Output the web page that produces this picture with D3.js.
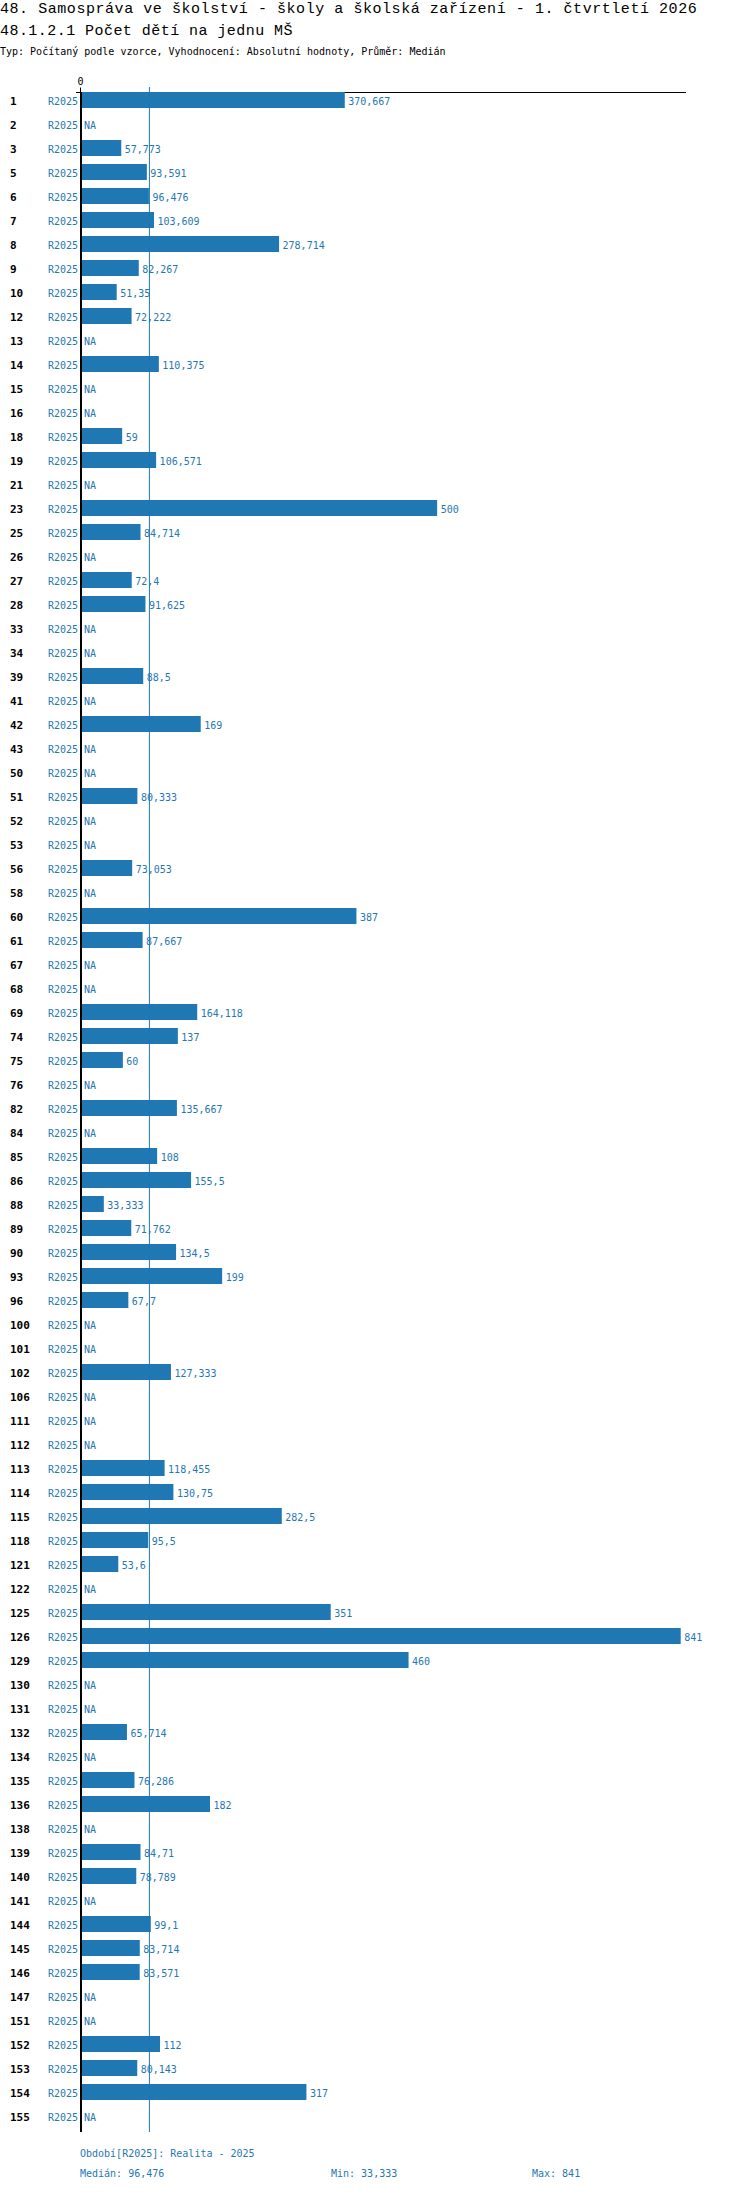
<!DOCTYPE html>
<html>
<head>
<meta charset="utf-8">
<script src="https://cdn.jsdelivr.net/npm/d3@7"></script>
<style>
  html, body { margin: 0; padding: 0; background: #fff; }
  svg { display: block; }
</style>
</head>
<body>
<script>
const titleText = "48. Samospráva ve školství - školy a školská zařízení - 1. čtvrtletí 2026";
const subtitleText = "48.1.2.1 Počet dětí na jednu MŠ";
const typeText = "Typ: Počítaný podle vzorce, Vyhodnocení: Absolutní hodnoty, Průměr: Medián";
const periodLabel = "R2025";
const periodLegend = "Období[R2025]: Realita - 2025";

const categories = ["1","2","3","5","6","7","8","9","10","12","13","14","15","16","18","19","21","23","25","26","27","28","33","34","39","41","42","43","50","51","52","53","56","58","60","61","67","68","69","74","75","76","82","84","85","86","88","89","90","93","96","100","101","102","106","111","112","113","114","115","118","121","122","125","126","129","130","131","132","134","135","136","138","139","140","141","144","145","146","147","151","152","153","154","155"];

const values = [370.667,null,57.773,93.591,96.476,103.609,278.714,82.267,51.35,72.222,null,110.375,null,null,59,106.571,null,500,84.714,null,72.4,91.625,null,null,88.5,null,169,null,null,80.333,null,null,73.053,null,387,87.667,null,null,164.118,137,60,null,135.667,null,108,155.5,33.333,71.762,134.5,199,67.7,null,null,127.333,null,null,null,118.455,130.75,282.5,95.5,53.6,null,351,841,460,null,null,65.714,null,76.286,182,null,84.71,78.789,null,99.1,83.714,83.571,null,null,112,80.143,317,null];

const xTicks = [0];

const W = 750, H = 2192;
const blue = "#1f77b4";
const mono = "'DejaVu Sans Mono', monospace";

const loc = d3.formatLocale({decimal: ",", thousands: " ", grouping: [3], currency: ["", ""]});
const fmt = loc.format(".3~f");

const svg = d3.select("body").append("svg").attr("width", W).attr("height", H);

svg.append("text").attr("x", 0).attr("y", 13)
  .style("font-family", "'Liberation Mono', monospace").style("font-size", "15px")
  .style("letter-spacing", "0.55px").attr("fill", "#000")
  .text(titleText);
svg.append("text").attr("x", 0).attr("y", 34.5)
  .style("font-family", "'Liberation Mono', monospace").style("font-size", "15px")
  .style("letter-spacing", "0.45px").attr("fill", "#000")
  .text(subtitleText);
svg.append("text").attr("x", 0).attr("y", 55)
  .style("font-family", mono).style("font-size", "10px").attr("fill", "#000")
  .text(typeText);

const data = categories.map((c, i) => ({cat: c, v: values[i]}));
const valid = values.filter(v => v != null);
const med = d3.median(valid), mn = d3.min(valid), mx = d3.max(valid);

const x = d3.scaleLinear().domain([0, mx]).range([80, 680.7]);
const y = d3.scaleBand().domain(categories).range([92, 92 + 24 * categories.length]).padding(0);
const barH = y.bandwidth() * 2 / 3;
const yBottom = 92 + 24 * categories.length;

// top axis with 0 tick
const ax = svg.append("g").attr("transform", "translate(0,92.5)")
  .call(d3.axisTop(x).tickValues(xTicks).tickSize(5).tickSizeOuter(0).tickFormat(d => String(d)));
ax.select(".domain").remove();
ax.selectAll("text").style("font-family", mono).style("font-size", "10px").attr("fill", "#000").attr("y", -8);
ax.selectAll("line").attr("stroke", "#000");
svg.append("line").attr("x1", 76).attr("x2", 686).attr("y1", 92.5).attr("y2", 92.5)
  .attr("stroke", "#000").attr("stroke-width", 1);

// bars
svg.append("g").selectAll("rect").data(data.filter(d => d.v != null)).join("rect")
  .attr("x", x(0)).attr("y", d => y(d.cat))
  .attr("width", d => x(d.v) - x(0)).attr("height", barH)
  .attr("fill", blue);

// median line
svg.append("line").attr("x1", x(med) + 0.5).attr("x2", x(med) + 0.5)
  .attr("y1", 87).attr("y2", yBottom).attr("stroke", blue).attr("stroke-width", 1);

// vertical axis line
svg.append("line").attr("x1", 81).attr("x2", 81).attr("y1", 92).attr("y2", yBottom)
  .attr("stroke", "#000").attr("stroke-width", 2);

// category labels
svg.append("g").selectAll("text").data(data).join("text")
  .attr("x", 10).attr("y", d => y(d.cat) + 12.7)
  .style("font-family", mono).style("font-size", "11px").style("font-weight", "bold").attr("fill", "#000")
  .text(d => d.cat);

// period labels
svg.append("g").selectAll("text").data(data).join("text")
  .attr("x", 78).attr("y", d => y(d.cat) + 12.7).attr("text-anchor", "end")
  .style("font-family", mono).style("font-size", "10px").attr("fill", blue)
  .text(periodLabel);

// value labels
svg.append("g").selectAll("text").data(data).join("text")
  .attr("x", d => (d.v == null ? x(0) + 4 : x(d.v) + 3.5)).attr("y", d => y(d.cat) + 12.7)
  .style("font-family", mono).style("font-size", "10px").attr("fill", blue)
  .text(d => d.v == null ? "NA" : fmt(d.v));

// footer
const foot = [
  {t: periodLegend, x: 80, y: 2157.3},
  {t: "Medián: " + fmt(med), x: 80, y: 2177.3},
  {t: "Min: " + fmt(mn), x: 331, y: 2177.3},
  {t: "Max: " + fmt(mx), x: 532, y: 2177.3}
];
svg.append("g").selectAll("text").data(foot).join("text")
  .attr("x", d => d.x).attr("y", d => d.y)
  .style("font-family", mono).style("font-size", "10px").attr("fill", blue)
  .text(d => d.t);
</script>
</body>
</html>
